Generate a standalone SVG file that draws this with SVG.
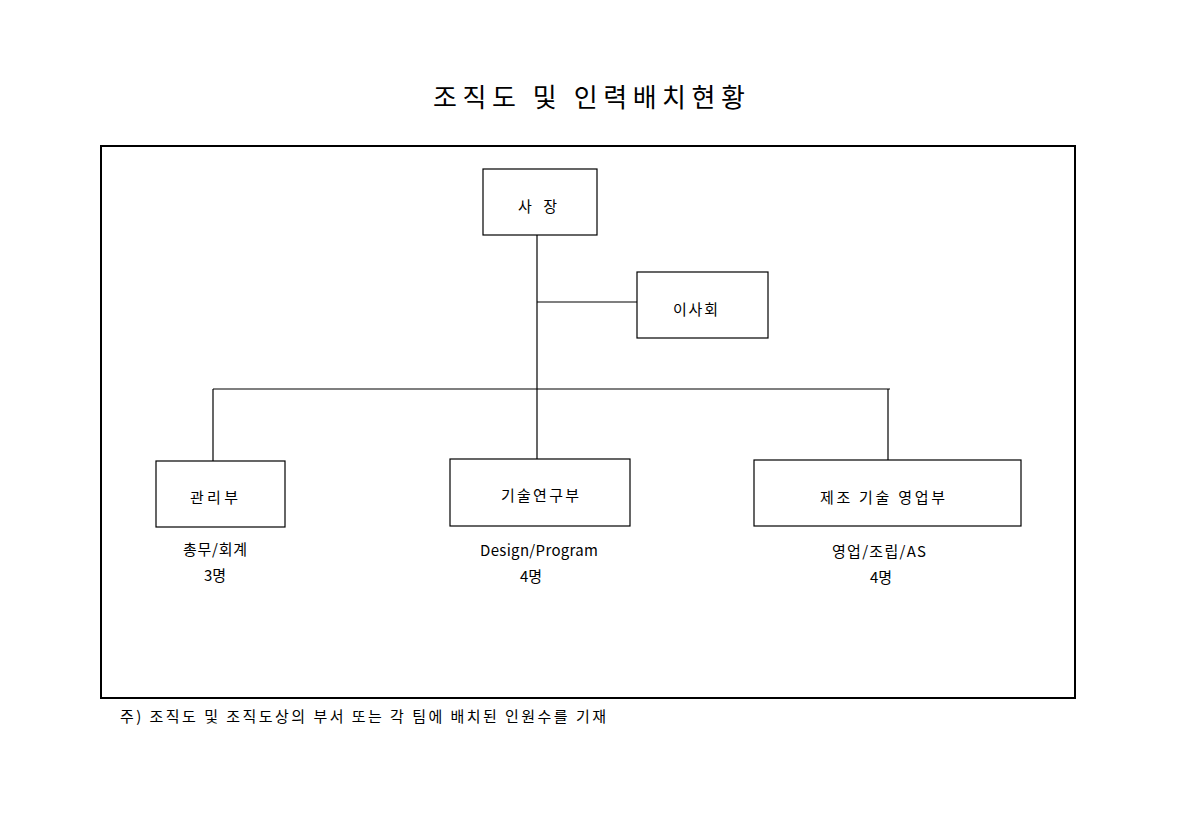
<svg xmlns="http://www.w3.org/2000/svg" width="1179" height="817" viewBox="0 0 1179 817">
<style>
text{font-family:"Noto Sans CJK KR","Liberation Sans",sans-serif;fill:#000;font-size:15px}
.box{fill:#fff;stroke:#000;stroke-width:1.2}
.ln{stroke:#000;stroke-width:1.2;fill:none}
.c{text-anchor:middle}
</style>
<rect width="1179" height="817" fill="#fff"/>
<text x="589" y="107" class="c" style="font-size:26px" textLength="312" lengthAdjust="spacing">조직도 및 인력배치현황</text>
<rect x="101" y="146" width="974" height="552" fill="none" stroke="#000" stroke-width="2"/>
<g id="connectors">
<line class="ln" x1="537" y1="233" x2="537" y2="459"/>
<line class="ln" x1="537" y1="302" x2="637" y2="302"/>
<line class="ln" x1="213" y1="389" x2="890" y2="389"/>
<line class="ln" x1="213" y1="389" x2="213" y2="461"/>
<line class="ln" x1="888" y1="389" x2="888" y2="460"/>
</g>
<g id="ceo"><rect class="box" x="483" y="169" width="114" height="66"/><text x="537.5" y="212" class="c" textLength="39" lengthAdjust="spacing">사 장</text></g>
<g id="board"><rect class="box" x="637" y="272" width="131" height="66"/><text x="695.5" y="315" class="c" textLength="45" lengthAdjust="spacing">이사회</text></g>
<g id="admin"><rect class="box" x="156" y="461" width="129" height="66"/><text x="214" y="503" class="c" textLength="48" lengthAdjust="spacing">관리부</text>
<text x="215" y="555" class="c" textLength="64" lengthAdjust="spacing">총무/회계</text><text x="215" y="581" class="c">3명</text></g>
<g id="rnd"><rect class="box" x="450" y="459" width="180" height="67"/><text x="540" y="501" class="c" textLength="78" lengthAdjust="spacing">기술연구부</text>
<text x="539" y="556" class="c" textLength="118" lengthAdjust="spacing">Design/Program</text><text x="531" y="582" class="c">4명</text></g>
<g id="mfg"><rect class="box" x="754" y="460" width="267" height="66"/><text x="882.5" y="503" class="c" textLength="125" lengthAdjust="spacing">제조 기술 영업부</text>
<text x="879" y="557" class="c" textLength="94" lengthAdjust="spacing">영업/조립/AS</text><text x="881" y="583" class="c">4명</text></g>
<text x="120" y="722" textLength="486" lengthAdjust="spacing">주) 조직도 및 조직도상의 부서 또는 각 팀에 배치된 인원수를 기재</text>
</svg>
